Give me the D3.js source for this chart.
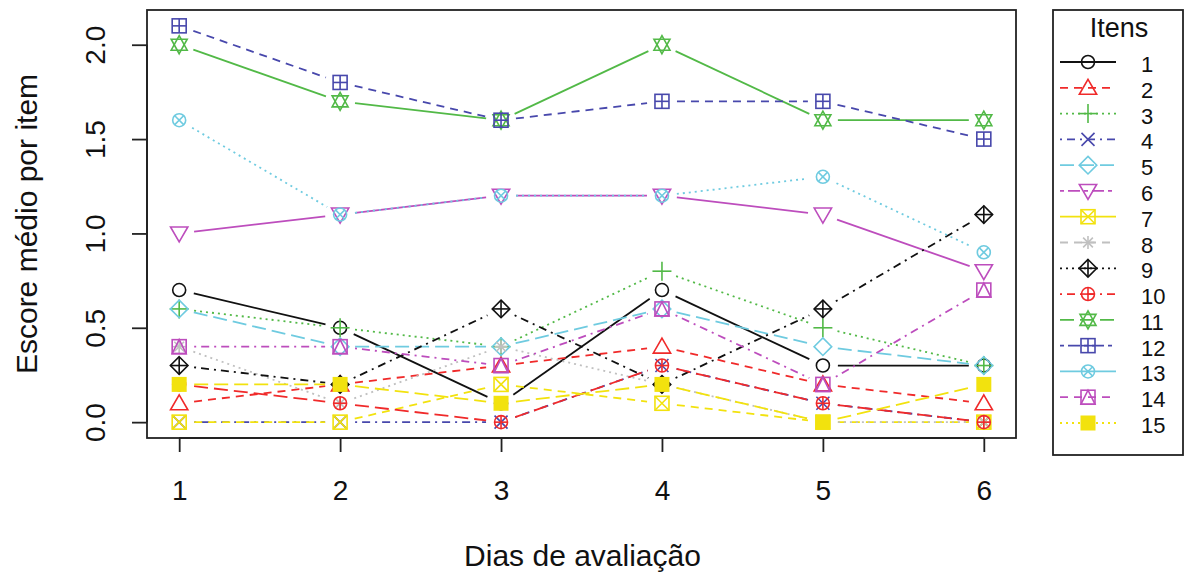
<!DOCTYPE html>
<html>
<head>
<meta charset="utf-8">
<script src="https://cdn.jsdelivr.net/npm/d3@7"></script>
<style>
  html, body { margin: 0; padding: 0; background: #fff; }
  svg { display: block; }
  text { font-family: "Liberation Sans", Arial, sans-serif; fill: #111; }
</style>
</head>
<body>
<svg id="chart" width="1185" height="572"></svg>
<script>
// Days of evaluation (x axis)
const days = [1, 2, 3, 4, 5, 6];
const dayTicks = ["1", "2", "3", "4", "5", "6"];
const scoreTicks = [0, 0.5, 1.0, 1.5, 2.0];
const scoreTickLabels = ["0.0", "0.5", "1.0", "1.5", "2.0"];
const itemNames = ["1", "2", "3", "4", "5", "6", "7", "8", "9", "10", "11", "12", "13", "14", "15"];

// Mean score per item on each day
const item01 = [0.7, 0.5, 0.1, 0.7, 0.3, 0.3];
const item02 = [0.1, 0.2, 0.3, 0.4, 0.2, 0.1];
const item03 = [0.6, 0.5, 0.4, 0.8, 0.5, 0.3];
const item04 = [0.0, 0.0, 0.0, 0.3, 0.1, 0.0];
const item05 = [0.6, 0.4, 0.4, 0.6, 0.4, 0.3];
const item06 = [1.0, 1.1, 1.2, 1.2, 1.1, 0.8];
const item07 = [0.0, 0.0, 0.2, 0.1, 0.0, 0.0];
const item08 = [0.4, 0.1, 0.4, 0.2, 0.0, 0.0];
const item09 = [0.3, 0.2, 0.6, 0.2, 0.6, 1.1];
const item10 = [0.2, 0.1, 0.0, 0.3, 0.1, 0.0];
const item11 = [2.0, 1.7, 1.6, 2.0, 1.6, 1.6];
const item12 = [2.1, 1.8, 1.6, 1.7, 1.7, 1.5];
const item13 = [1.6, 1.1, 1.2, 1.2, 1.3, 0.9];
const item14 = [0.4, 0.4, 0.3, 0.6, 0.2, 0.7];
const item15 = [0.2, 0.2, 0.1, 0.2, 0.0, 0.2];
const itemScores = [item01, item02, item03, item04, item05, item06, item07, item08,
                    item09, item10, item11, item12, item13, item14, item15];

// Colour palette (cycled), line types and plotting symbols
const palette = ["#111111", "#f02a2a", "#52b947", "#4848ac", "#6fcbe0", "#bd4dbd", "#f2e20e", "#c0c0c0"];
const dashTypes = {
  solid: null,
  dashed: "8,6",
  dotted: "2,4",
  dotdash: "2,5,8,5",
  longdash: "14,6",
  twodash: "4,4,12,4"
};
const plotLty = ["solid", "dashed", "dotted", "dotdash", "longdash"];
const legendLty = ["solid", "dashed", "dotted", "dotdash", "longdash", "twodash"];

const svg = d3.select("#chart");
const plot = { left: 147, top: 10, right: 1016, bottom: 438 };

const x = d3.scaleLinear().domain([0.8, 6.2]).range([plot.left, plot.right]);
const y = d3.scaleLinear().domain([-0.084, 2.184]).range([plot.bottom, plot.top]);

const colorOf = i => palette[i % palette.length];

// Draws the R-style plotting symbol number `pch` centred on (cx, cy)
function drawSymbol(g, pch, cx, cy, color) {
  const s = g.append("g").attr("transform", `translate(${cx},${cy})`)
    .attr("fill", "none").attr("stroke", color).attr("stroke-width", 1.6);
  const r = 6.5;           // circle radius
  const q = 7;             // half side of squares
  const dm = 8.8;          // half diagonal of diamonds
  const tr = 10;           // triangle circumradius
  const tx = tr * Math.sqrt(3) / 2, ty = tr / 2;
  const line = (x1, y1, x2, y2) => s.append("line").attr("x1", x1).attr("y1", y1).attr("x2", x2).attr("y2", y2);
  const poly = pts => s.append("polygon").attr("points", pts.map(p => p.join(",")).join(" "));
  const square = () => s.append("rect").attr("x", -q).attr("y", -q).attr("width", 2 * q).attr("height", 2 * q);
  const circle = () => s.append("circle").attr("r", r);
  switch (pch) {
    case 1: circle(); break;
    case 2: poly([[0, -tr + 1.5], [tx, ty + 1.5], [-tx, ty + 1.5]]); break;
    case 3: line(-9.5, 0, 9.5, 0); line(0, -9.5, 0, 9.5); break;
    case 4: line(-r, -r, r, r); line(-r, r, r, -r); break;
    case 5: poly([[0, -dm], [dm, 0], [0, dm], [-dm, 0]]); break;
    case 6: poly([[0, tr - 1.5], [tx, -ty - 1.5], [-tx, -ty - 1.5]]); break;
    case 7: square(); line(-q, -q, q, q); line(-q, q, q, -q); break;
    case 8: line(-r, 0, r, 0); line(0, -r, 0, r); line(-r * 0.75, -r * 0.75, r * 0.75, r * 0.75); line(-r * 0.75, r * 0.75, r * 0.75, -r * 0.75); break;
    case 9: poly([[0, -dm], [dm, 0], [0, dm], [-dm, 0]]); line(-dm, 0, dm, 0); line(0, -dm, 0, dm); break;
    case 10: circle(); line(-r, 0, r, 0); line(0, -r, 0, r); break;
    case 11: poly([[0, -9], [8, 5.5], [-8, 5.5]]); poly([[0, 9], [8, -5.5], [-8, -5.5]]); break;
    case 12: square(); line(-q, 0, q, 0); line(0, -q, 0, q); break;
    case 13: circle(); line(-r * 0.72, -r * 0.72, r * 0.72, r * 0.72); line(-r * 0.72, r * 0.72, r * 0.72, -r * 0.72); break;
    case 14: square(); poly([[-q, q], [0, -q], [q, q]]); break;
    case 15: s.append("rect").attr("x", -7.5).attr("y", -7.5).attr("width", 15).attr("height", 15)
               .attr("fill", color).attr("stroke", "none"); break;
  }
}

// Each item: line segments with gaps around the points (type "b"), then its symbols
const gap = 15;
itemScores.forEach((vals, i) => {
  const color = colorOf(i);
  const g = svg.append("g");
  const dash = dashTypes[plotLty[i % plotLty.length]];
  for (let k = 0; k < days.length - 1; k++) {
    const x0 = x(days[k]), y0 = y(vals[k]), x1 = x(days[k + 1]), y1 = y(vals[k + 1]);
    const d = Math.hypot(x1 - x0, y1 - y0);
    if (d <= 2 * gap) continue;
    const ux = (x1 - x0) / d, uy = (y1 - y0) / d;
    g.append("line")
      .attr("x1", x0 + ux * gap).attr("y1", y0 + uy * gap)
      .attr("x2", x1 - ux * gap).attr("y2", y1 - uy * gap)
      .attr("stroke", color).attr("stroke-width", 1.8)
      .attr("stroke-dasharray", dash);
  }
  vals.forEach((v, k) => drawSymbol(g, i + 1, x(days[k]), y(v), color));
});

// Plot frame
svg.append("rect")
  .attr("x", plot.left).attr("y", plot.top)
  .attr("width", plot.right - plot.left).attr("height", plot.bottom - plot.top)
  .attr("fill", "none").attr("stroke", "#222").attr("stroke-width", 1.8);

// X axis
const xAxis = d3.axisBottom(x).tickValues(days).tickFormat((d, i) => dayTicks[i]).tickSize(14).tickPadding(28);
const gx = svg.append("g").attr("transform", `translate(0,${plot.bottom})`).call(xAxis);
gx.select(".domain").attr("d", `M${x(days[0])},0H${x(days[days.length - 1])}`).attr("stroke", "#222").attr("stroke-width", 1.8);
gx.selectAll(".tick line").attr("stroke", "#222").attr("stroke-width", 1.8);
gx.selectAll(".tick text").attr("font-size", 28).attr("fill", "#111")
  .attr("font-family", "Liberation Sans, Arial, sans-serif");

// Y axis with vertical labels
const yAxis = d3.axisLeft(y).tickValues(scoreTicks).tickFormat((d, i) => scoreTickLabels[i]).tickSize(15);
const gy = svg.append("g").attr("transform", `translate(${plot.left},0)`).call(yAxis);
gy.select(".domain").attr("d", `M0,${y(scoreTicks[0])}V${y(scoreTicks[scoreTicks.length - 1])}`).attr("stroke", "#222").attr("stroke-width", 1.8);
gy.selectAll(".tick line").attr("stroke", "#222").attr("stroke-width", 1.8);
gy.selectAll(".tick text")
  .attr("font-size", 28).attr("fill", "#111")
  .attr("font-family", "Liberation Sans, Arial, sans-serif")
  .attr("x", null).attr("dy", null)
  .attr("text-anchor", "middle")
  .attr("transform", "translate(-52,0) rotate(-90)")
  .attr("y", 10);

// Axis titles
svg.append("text")
  .attr("x", (plot.left + plot.right) / 2 + 1).attr("y", 566)
  .attr("text-anchor", "middle").attr("font-size", 30)
  .text("Dias de avaliação");
svg.append("text")
  .attr("transform", `translate(37,${(plot.top + plot.bottom) / 2}) rotate(-90)`)
  .attr("text-anchor", "middle").attr("font-size", 30)
  .text("Escore médio por item");

// Legend
const legend = { left: 1053, top: 10, right: 1183, bottom: 455 };
svg.append("rect")
  .attr("x", legend.left).attr("y", legend.top)
  .attr("width", legend.right - legend.left).attr("height", legend.bottom - legend.top)
  .attr("fill", "none").attr("stroke", "#222").attr("stroke-width", 1.8);
svg.append("text")
  .attr("x", 1119).attr("y", 37).attr("text-anchor", "middle").attr("font-size", 27)
  .text("Itens");
const rowY = d3.scaleLinear().domain([0, itemNames.length - 1]).range([62, 423]);
itemNames.forEach((name, i) => {
  const color = colorOf(i);
  const yy = rowY(i);
  const g = svg.append("g");
  g.append("line").attr("x1", 1060).attr("x2", 1116).attr("y1", yy).attr("y2", yy)
    .attr("stroke", color).attr("stroke-width", 1.8)
    .attr("stroke-dasharray", dashTypes[legendLty[i % legendLty.length]]);
  drawSymbol(g, i + 1, 1088, yy, color);
  g.append("text").attr("x", 1141).attr("y", yy + 10).attr("font-size", 22).text(name);
});
</script>
</body>
</html>
